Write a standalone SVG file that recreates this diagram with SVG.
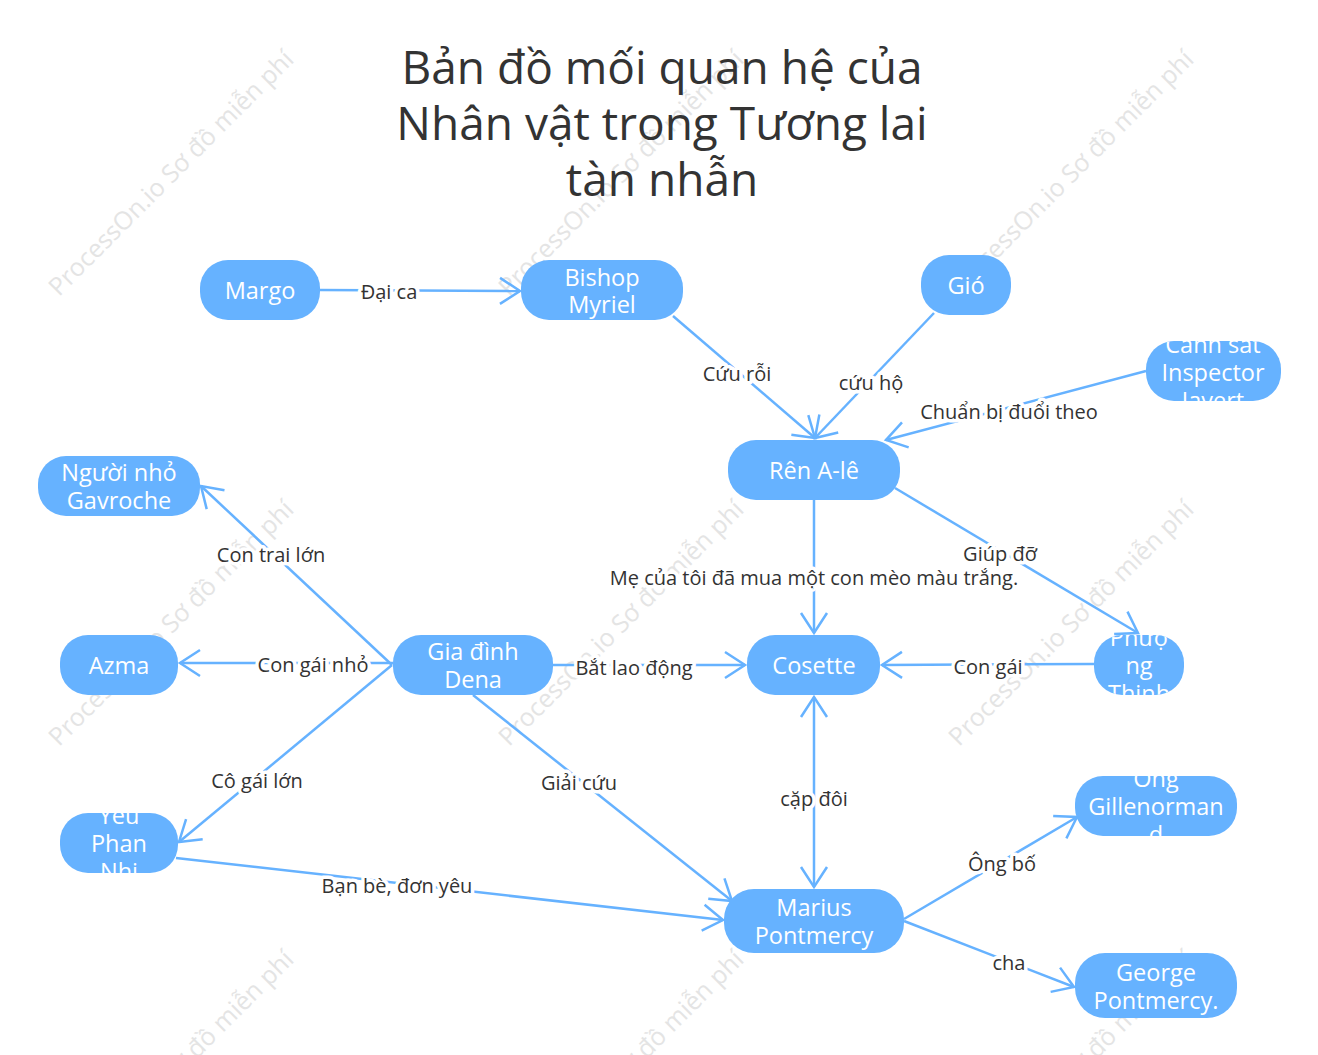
<svg xmlns="http://www.w3.org/2000/svg" width="1318" height="1055" viewBox="0 0 1318 1055">
<style>
.bg{fill:#ffffff}
.wm{font-family:"Open Sans","Noto Sans",sans-serif;font-size:25px;fill:#e4e4e4}
.title{font-family:"Open Sans","Noto Sans",sans-serif;font-size:46px;fill:#333333;text-anchor:middle}
.node rect{fill:#66b2ff}
.node text{font-family:"Open Sans","Noto Sans",sans-serif;font-size:23.5px;fill:#ffffff;text-anchor:middle;dominant-baseline:central}
.edge{stroke:#66b2ff;stroke-width:2.5;fill:none;marker-end:url(#arr)}
.both{marker-start:url(#arrs)}
.lbl{font-family:"Open Sans","Noto Sans",sans-serif;font-size:20px;fill:#333333;text-anchor:middle;dominant-baseline:central;stroke:#ffffff;stroke-width:7;paint-order:stroke;stroke-linejoin:round}
</style>
<defs>
<marker id="arr" markerUnits="userSpaceOnUse" markerWidth="26" markerHeight="32" viewBox="0 0 26 32" refX="23" refY="16" orient="auto">
<path d="M3,3 L23,16 L3,29" fill="none" stroke="#66b2ff" stroke-width="2.5"/>
</marker>
<marker id="arrs" markerUnits="userSpaceOnUse" markerWidth="26" markerHeight="32" viewBox="0 0 26 32" refX="23" refY="16" orient="auto-start-reverse">
<path d="M3,3 L23,16 L3,29" fill="none" stroke="#66b2ff" stroke-width="2.5"/>
</marker>
<clipPath id="cJ"><rect x="1146" y="341" width="135" height="60" rx="28"/></clipPath>
<clipPath id="cP"><rect x="1094" y="635" width="90" height="60" rx="28"/></clipPath>
<clipPath id="cY"><rect x="60" y="813" width="118" height="60" rx="28"/></clipPath>
<clipPath id="cG"><rect x="1075" y="776" width="162" height="60" rx="28"/></clipPath>
</defs>
<rect class="bg" x="0" y="0" width="1318" height="1055"/>

<g id="watermarks">
<text class="wm" transform="translate(170,172) rotate(-45)" text-anchor="middle" dominant-baseline="central">ProcessOn.io Sơ đồ miễn phí</text>
<text class="wm" transform="translate(620,172) rotate(-45)" text-anchor="middle" dominant-baseline="central">ProcessOn.io Sơ đồ miễn phí</text>
<text class="wm" transform="translate(1070,172) rotate(-45)" text-anchor="middle" dominant-baseline="central">ProcessOn.io Sơ đồ miễn phí</text>
<text class="wm" transform="translate(170,622) rotate(-45)" text-anchor="middle" dominant-baseline="central">ProcessOn.io Sơ đồ miễn phí</text>
<text class="wm" transform="translate(620,622) rotate(-45)" text-anchor="middle" dominant-baseline="central">ProcessOn.io Sơ đồ miễn phí</text>
<text class="wm" transform="translate(1070,622) rotate(-45)" text-anchor="middle" dominant-baseline="central">ProcessOn.io Sơ đồ miễn phí</text>
<text class="wm" transform="translate(170,1072) rotate(-45)" text-anchor="middle" dominant-baseline="central">ProcessOn.io Sơ đồ miễn phí</text>
<text class="wm" transform="translate(620,1072) rotate(-45)" text-anchor="middle" dominant-baseline="central">ProcessOn.io Sơ đồ miễn phí</text>
<text class="wm" transform="translate(1070,1072) rotate(-45)" text-anchor="middle" dominant-baseline="central">ProcessOn.io Sơ đồ miễn phí</text>
</g>

<g id="title">
<text class="title" x="662" y="84">Bản đồ mối quan hệ của</text>
<text class="title" x="662" y="140">Nhân vật trong Tương lai</text>
<text class="title" x="662" y="196">tàn nhẫn</text>
</g>

<g id="connectors">
<path class="edge" d="M320,290 L520,291"/>
<path class="edge" d="M673,316 L815,438"/>
<path class="edge" d="M934,313 L815,438"/>
<path class="edge" d="M1146,371 L886,440"/>
<path class="edge" d="M814,500 L814,633"/>
<path class="edge" d="M895,488 L1138,633"/>
<path class="edge" d="M1094,664 L882,665"/>
<path class="edge" d="M553,665 L745,665"/>
<path class="edge" d="M392,665 L201,486"/>
<path class="edge" d="M393,663 L180,663"/>
<path class="edge" d="M392,665 L179,842"/>
<path class="edge" d="M473,695 L732,901"/>
<path class="edge both" d="M814,697 L814,887"/>
<path class="edge" d="M176,858 L723,920"/>
<path class="edge" d="M904,919 L1077,817"/>
<path class="edge" d="M904,921 L1074,987"/>
<text class="lbl" x="389" y="291">Đại ca</text>
<text class="lbl" x="737" y="373">Cứu rỗi</text>
<text class="lbl" x="871" y="382">cứu hộ</text>
<text class="lbl" x="1009" y="411">Chuẩn bị đuổi theo</text>
<text class="lbl" x="814" y="577">Mẹ của tôi đã mua một con mèo màu trắng.</text>
<text class="lbl" x="1000" y="553">Giúp đỡ</text>
<text class="lbl" x="988" y="666">Con gái</text>
<text class="lbl" x="634" y="667">Bắt lao động</text>
<text class="lbl" x="271" y="554">Con trai lớn</text>
<text class="lbl" x="313" y="664">Con gái nhỏ</text>
<text class="lbl" x="257" y="780">Cô gái lớn</text>
<text class="lbl" x="579" y="782">Giải cứu</text>
<text class="lbl" x="814" y="798">cặp đôi</text>
<text class="lbl" x="397" y="885">Bạn bè, đơn yêu</text>
<text class="lbl" x="1002" y="863">Ông bố</text>
<text class="lbl" x="1009" y="962">cha</text>
</g>

<g id="n-margo" class="node"><rect x="200" y="260" width="120" height="60" rx="28"/><text x="260" y="290">Margo</text></g>
<g id="n-bishop" class="node"><rect x="521" y="260" width="162" height="60" rx="28"/><text x="602" y="277">Bishop</text><text x="602" y="304">Myriel</text></g>
<g id="n-gio" class="node"><rect x="921" y="255" width="90" height="60" rx="28"/><text x="966" y="285">Gió</text></g>
<g id="n-javert" class="node"><rect x="1146" y="341" width="135" height="60" rx="28"/><g clip-path="url(#cJ)"><text x="1213" y="344">Cảnh sát</text><text x="1213" y="372">Inspector</text><text x="1213" y="400">Javert</text></g></g>
<g id="n-ren" class="node"><rect x="728" y="440" width="172" height="60" rx="28"/><text x="814" y="470">Rên A-lê</text></g>
<g id="n-gavroche" class="node"><rect x="38" y="456" width="162" height="60" rx="28"/><text x="119" y="472">Người nhỏ</text><text x="119" y="500">Gavroche</text></g>
<g id="n-azma" class="node"><rect x="60" y="635" width="118" height="60" rx="28"/><text x="119" y="665">Azma</text></g>
<g id="n-dena" class="node"><rect x="393" y="635" width="160" height="60" rx="28"/><text x="473" y="651">Gia đình</text><text x="473" y="679">Dena</text></g>
<g id="n-cosette" class="node"><rect x="747" y="635" width="133" height="60" rx="28"/><text x="814" y="665">Cosette</text></g>
<g id="n-phuong" class="node"><rect x="1094" y="635" width="90" height="60" rx="28"/><g clip-path="url(#cP)"><text x="1139" y="637">Phượ</text><text x="1139" y="665">ng</text><text x="1139" y="693">Thịnh</text></g></g>
<g id="n-yeu" class="node"><rect x="60" y="813" width="118" height="60" rx="28"/><g clip-path="url(#cY)"><text x="119" y="815">Yêu</text><text x="119" y="843">Phan</text><text x="119" y="871">Nhi</text></g></g>
<g id="n-gillenormand" class="node"><rect x="1075" y="776" width="162" height="60" rx="28"/><g clip-path="url(#cG)"><text x="1156" y="778">Ông</text><text x="1156" y="806">Gillenorman</text><text x="1156" y="834">d</text></g></g>
<g id="n-marius" class="node"><rect x="724" y="889" width="180" height="64" rx="30"/><text x="814" y="907">Marius</text><text x="814" y="935">Pontmercy</text></g>
<g id="n-george" class="node"><rect x="1075" y="953" width="162" height="65" rx="30"/><text x="1156" y="972">George</text><text x="1156" y="1000">Pontmercy.</text></g>
</svg>
